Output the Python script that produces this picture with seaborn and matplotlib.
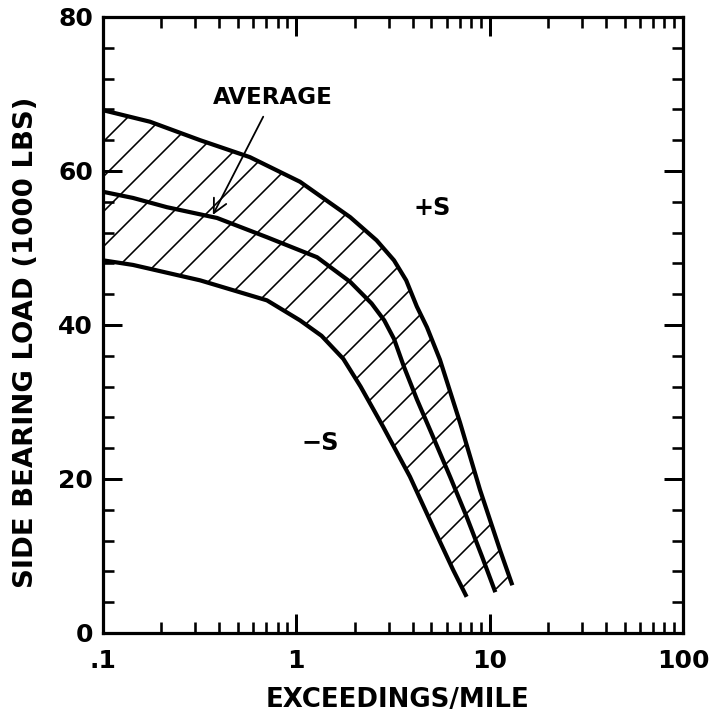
import numpy as np
import pandas as pd
import matplotlib
matplotlib.use("Agg")
import matplotlib.pyplot as plt
from matplotlib.ticker import LogLocator, MultipleLocator, FixedFormatter, FixedLocator, NullFormatter
import seaborn as sns

# ---- data ----
upper_x = [0.1, 0.175, 0.318, 0.575, 1.045, 1.90, 2.6, 3.2, 3.7, 4.2, 4.74, 5.53, 7.03, 8.91, 11.3, 13.1]
upper_y = [67.9, 66.4, 64.0, 61.8, 58.6, 54.0, 51.0, 48.4, 45.8, 42.4, 39.7, 35.5, 27.3, 18.6, 10.8, 6.2]

avg_x = [0.1, 0.143, 0.214, 0.389, 0.705, 1.28, 1.90, 2.45, 2.85, 3.2, 3.6, 4.21, 5.09, 6.24, 7.6, 9.14, 10.7]
avg_y = [57.3, 56.5, 55.3, 53.9, 51.4, 48.8, 45.6, 42.8, 40.6, 38.2, 34.6, 30.3, 25.5, 20.3, 15.1, 9.9, 5.3]

lower_x = [0.1, 0.143, 0.318, 0.705, 1.045, 1.35, 1.75, 2.15, 2.81, 3.87, 5.09, 6.47, 7.6]
lower_y = [48.4, 47.8, 45.8, 43.2, 40.6, 38.6, 35.6, 32.0, 26.8, 20.3, 13.8, 8.2, 4.7]

x_ticks = [0.1, 1, 10, 100]
x_tick_labels = [".1", "1", "10", "100"]
y_ticks = [0, 20, 40, 60, 80]
y_tick_labels = ["0", "20", "40", "60", "80"]

DPI = 210


def pt(px):
    """pixels -> points at the output dpi"""
    return px * 72.0 / DPI


sns.set_theme(style="ticks")
plt.rcParams["font.family"] = ["DejaVu Sans"]
plt.rcParams["hatch.linewidth"] = pt(1.6)
plt.rcParams["hatch.color"] = "black"

fig = plt.figure(figsize=(713 / DPI, 720 / DPI), dpi=DPI)
ax = fig.add_axes([103 / 713, 1 - 633 / 720, (683 - 103) / 713, (633 - 17) / 720])

curves = pd.concat([
    pd.DataFrame({"x": upper_x, "y": upper_y, "curve": "+S"}),
    pd.DataFrame({"x": avg_x, "y": avg_y, "curve": "AVERAGE"}),
    pd.DataFrame({"x": lower_x, "y": lower_y, "curve": "-S"}),
])

# hatched band between +S and -S
poly_x = list(upper_x) + list(lower_x[::-1])
poly_y = list(upper_y) + list(lower_y[::-1])
ax.fill(poly_x, poly_y, facecolor="none", edgecolor="black", hatch="//", linewidth=0)

for name in ["+S", "AVERAGE", "-S"]:
    sub = curves[curves["curve"] == name]
    sns.lineplot(data=sub, x="x", y="y", ax=ax, color="black", linewidth=pt(4.2),
                 estimator=None, sort=False, legend=False)
for line in ax.lines:
    line.set_solid_joinstyle("round")
    line.set_solid_capstyle("butt")

ax.set_xscale("log")
ax.set_xlim(0.1, 100)
ax.set_ylim(0, 80)

ax.xaxis.set_major_locator(FixedLocator(x_ticks))
ax.xaxis.set_major_formatter(FixedFormatter(x_tick_labels))
ax.xaxis.set_minor_locator(LogLocator(base=10, subs=[2, 3, 4, 5, 6, 7, 8, 9]))
ax.xaxis.set_minor_formatter(NullFormatter())
ax.yaxis.set_major_locator(FixedLocator(y_ticks))
ax.yaxis.set_major_formatter(FixedFormatter(y_tick_labels))
ax.yaxis.set_minor_locator(MultipleLocator(4))

FS = pt(25)
ax.tick_params(which="both", direction="in", top=True, right=True, color="black")
ax.tick_params(which="major", length=pt(19), width=pt(3))
ax.tick_params(which="minor", length=pt(11), width=pt(2.6))
ax.tick_params(axis="x", which="major", pad=pt(16), labelsize=FS, labelcolor="black")
ax.tick_params(axis="y", which="major", pad=pt(10), labelsize=FS, labelcolor="black")
for lab in ax.get_xticklabels() + ax.get_yticklabels():
    lab.set_fontweight("bold")

for s in ax.spines.values():
    s.set_linewidth(pt(3.2))
    s.set_color("black")

ax.set_xlabel("EXCEEDINGS/MILE", fontsize=pt(26), fontweight="bold", color="black")
ax.set_ylabel("SIDE BEARING LOAD (1000 LBS)", fontsize=pt(27.5), fontweight="bold", color="black")
ax.xaxis.set_label_coords((398 - 103) / 580, -(700 - 633) / 616)
ax.yaxis.set_label_coords(-(103 - 26) / 580, (633 - 342) / 616)
ax.xaxis.label.set_va("center")
ax.yaxis.label.set_va("center")

ax.annotate("AVERAGE", xy=(0.37, 54.3), xytext=(0.76, 69.6), ha="center", va="center",
            fontsize=pt(23), fontweight="bold", color="black",
            arrowprops=dict(arrowstyle="->,head_length=0.6,head_width=0.3", color="black",
                            lw=pt(1.8), shrinkA=pt(2), shrinkB=0))
ax.text(5.03, 55.2, "+S", ha="center", va="center", fontsize=pt(24), fontweight="bold", color="black")
ax.text(1.33, 24.7, "\u2212S", ha="center", va="center", fontsize=pt(24), fontweight="bold", color="black")

fig.savefig("out.png", dpi=DPI, facecolor="white")
